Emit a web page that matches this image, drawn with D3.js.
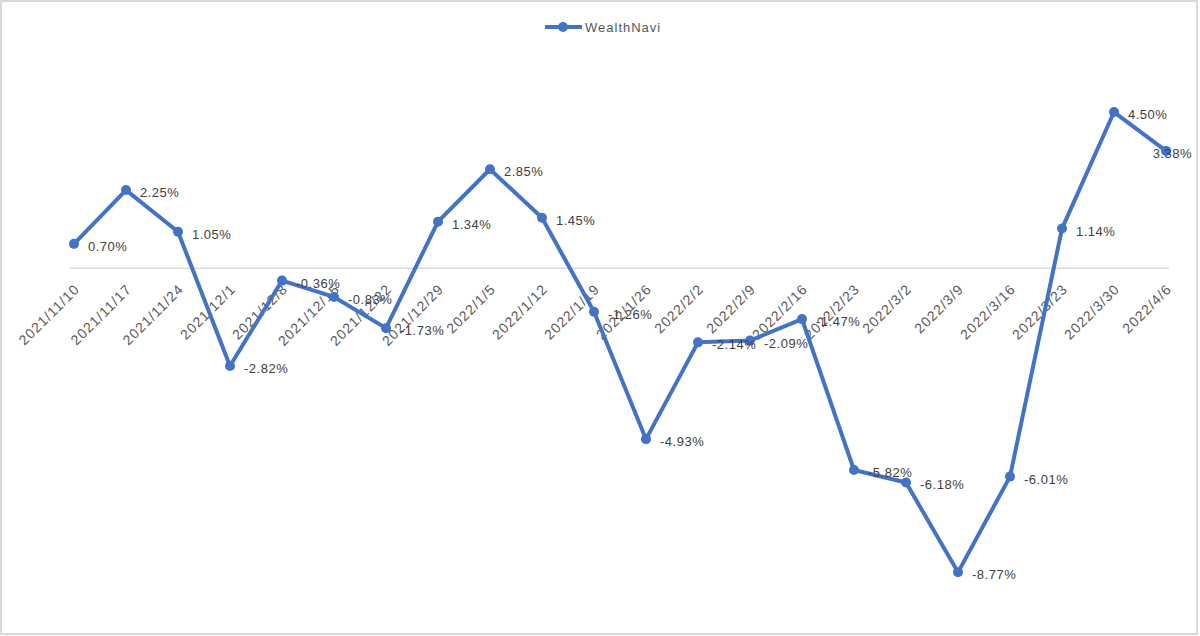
<!DOCTYPE html>
<html>
<head>
<meta charset="utf-8">
<script src="https://cdn.jsdelivr.net/npm/d3@7"></script>
<style>
  html, body { margin: 0; padding: 0; background: #fff; }
  svg { display: block; }
</style>
</head>
<body>
<svg id="chart" width="1200" height="636"></svg>
<script>
const categories = ["2021/11/10","2021/11/17","2021/11/24","2021/12/1","2021/12/8","2021/12/15","2021/12/22","2021/12/29","2022/1/5","2022/1/12","2022/1/19","2022/1/26","2022/2/2","2022/2/9","2022/2/16","2022/2/23","2022/3/2","2022/3/9","2022/3/16","2022/3/23","2022/3/30","2022/4/6"];
const seriesName = "WealthNavi";
const values = [0.70, 2.25, 1.05, -2.82, -0.36, -0.83, -1.73, 1.34, 2.85, 1.45, -1.26, -4.93, -2.14, -2.09, -1.47, -5.82, -6.18, -8.77, -6.01, 1.14, 4.50, 3.38];
const yDomain = [-10, 6];

const svg = d3.select("#chart");
const W = 1200, H = 636;
const color = "#4472C4";
const font = "'Liberation Sans', Arial, sans-serif";

// frame
svg.append("rect").attr("x", 1).attr("y", 1).attr("width", W - 4).attr("height", H - 3)
  .attr("fill", "#fff").attr("stroke", "#d9d9d9").attr("stroke-width", 2);

const x = d3.scalePoint().domain(categories).range([74, 1166]);
const y = d3.scaleLinear().domain(yDomain).range([615, 60]);

// category axis at zero
svg.append("line").attr("x1", 70).attr("x2", 1169)
  .attr("y1", y(0)).attr("y2", y(0))
  .attr("stroke", "#d9d9d9").attr("stroke-width", 1.5);

// x labels
const xAxis = d3.axisBottom(x).tickSize(0).tickPadding(0);
const gx = svg.append("g").attr("transform", `translate(0,${y(0)})`).call(xAxis);
gx.select(".domain").remove();
gx.selectAll("text")
  .attr("font-family", font).attr("font-size", 14).attr("letter-spacing", "1px")
  .attr("fill", "#595959")
  .attr("text-anchor", "end")
  .attr("x", 0).attr("y", 0).attr("dy", 0)
  .attr("transform", "translate(6,22) rotate(-45)");

// line
const line = d3.line().x((d, i) => x(categories[i])).y(d => y(d));
svg.append("path").datum(values).attr("d", line)
  .attr("fill", "none").attr("stroke", color).attr("stroke-width", 4)
  .attr("stroke-linejoin", "round").attr("stroke-linecap", "round");

svg.selectAll("circle.pt").data(values).enter().append("circle")
  .attr("class", "pt")
  .attr("cx", (d, i) => x(categories[i])).attr("cy", d => y(d)).attr("r", 5)
  .attr("fill", color);

// data labels
const labels = svg.selectAll("text.lbl").data(values).enter().append("text")
  .attr("class", "lbl")
  .attr("font-family", font).attr("font-size", 13).attr("letter-spacing", "0.5px")
  .attr("fill", "#404040")
  .attr("x", (d, i) => x(categories[i]) + 14)
  .attr("y", d => y(d) + 7)
  .text(d => d.toFixed(2) + "%");
labels.each(function() {
  const t = d3.select(this);
  const w = this.getComputedTextLength();
  const xx = +t.attr("x");
  if (xx + w > 1192) t.attr("x", 1192 - w);
});

// legend
const lg = svg.append("g");
lg.append("line").attr("x1", 545).attr("x2", 582).attr("y1", 27).attr("y2", 27)
  .attr("stroke", color).attr("stroke-width", 4);
lg.append("circle").attr("cx", 563).attr("cy", 27).attr("r", 5).attr("fill", color);
lg.append("text").attr("x", 585).attr("y", 32)
  .attr("font-family", font).attr("font-size", 13).attr("letter-spacing", "1px")
  .attr("fill", "#595959").text(seriesName);
</script>
</body>
</html>
